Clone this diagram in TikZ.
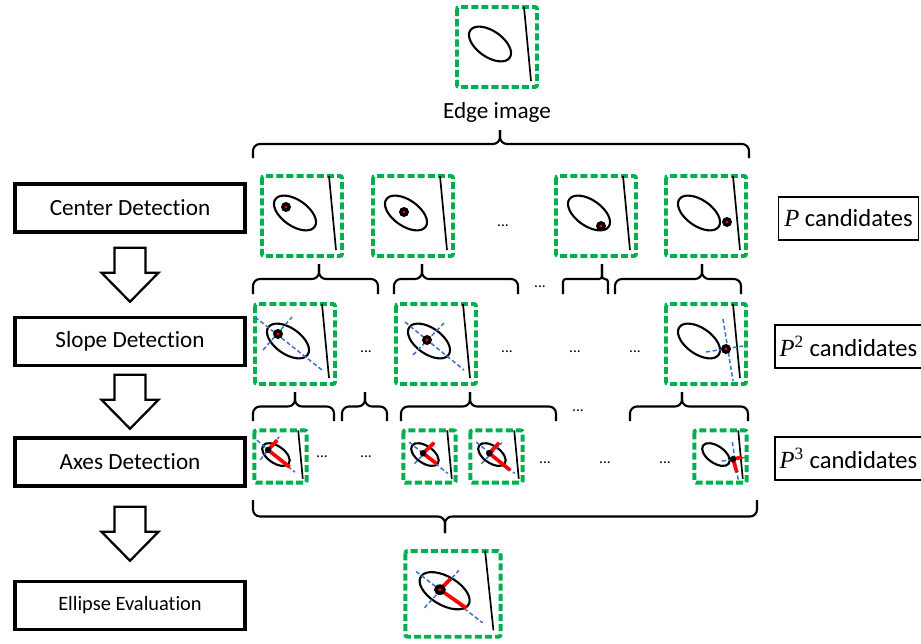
\documentclass[tikz,border=0pt]{standalone}
\usepackage{fontspec}
\setmainfont{Carlito}[Ligatures=NoCommon]
\newfontfamily\seriffont{Liberation Serif}
\usetikzlibrary{calc}

\definecolor{framegreen}{RGB}{0,176,80}
\definecolor{axisblue}{RGB}{68,114,196}

\tikzset{
  stage/.style={draw, line width=2.4pt, minimum width=5.75cm, minimum height=1.2cm,
    font=\fontsize{16.5}{20}\selectfont},
  cand/.style={draw, line width=1pt, minimum width=3.5cm, minimum height=1.08cm,
    font=\fontsize{17.5}{20}\selectfont},
  edge frame/.style={draw=framegreen, line width=2.8pt, dash pattern=on 5pt off 2.2pt,
    rounded corners=1.5pt},
  contour/.style={line width=1.5pt},
  edge line/.style={line width=1.2pt},
  slope axis/.style={axisblue, line width=1.1pt, dash pattern=on 3pt off 1.8pt},
  semi axis/.style={red, line width=2.6pt},
  bracket/.style={line width=1.5pt},
  stage arrow/.style={line width=1.6pt},
  dots/.style={inner sep=0pt, font=\fontsize{11}{13}\selectfont},
}

% one candidate image: frame, ellipse and edge line, then the extras in #3
\newcommand{\thumb}[3][]{%
  \begin{scope}[shift={(#2)}, #1]
    \draw[edge frame] (2,2) rectangle (82,82);
    \draw[contour] (35,39) ellipse [x radius=24, y radius=13, rotate=-35];
    \draw[edge line] (69,2) -- (76,76);
    #3
  \end{scope}}

% detected center point
\newcommand{\hitdot}[1]{%
  \fill (#1) circle [radius=5];
  \fill[red] (#1) circle [radius=1.6];}

% brace: [corner radius] left x, tip x, right x, y of the ends, y of the tip
\newcommand{\groupbrace}[6][5pt]{%
  \pgfmathsetmacro{\braceY}{(#5+#6)/2}
  \draw[bracket, rounded corners=#1] (#2,#5) -- (#2,\braceY) -- (#3,\braceY) -- (#3,#6);
  \draw[bracket, rounded corners=#1] (#4,#5) -- (#4,\braceY) -- (#3,\braceY) -- (#3,#6);}

% hollow block arrow between two stages
\newcommand{\stagearrow}[2]{%
  \coordinate (m) at ($(#1.south)!.5!(#2.north)$);
  \draw[stage arrow] ($(m)+(-15.5,-27)$) -- ++(31,0) -- ++(0,25) -- ++(13,0)
    -- ++(-28.5,29) -- ++(-28.5,-29) -- ++(13,0) -- cycle;}

\begin{document}
\begin{tikzpicture}[x=0.025cm, y=-0.025cm]
  \useasboundingbox (0,0) rectangle (921,644);

  % stages
  \node[stage] (detcenter) at (130,208) {Center Detection};
  \node[stage] (detslope) at (130,341.5) {Slope Detection};
  \node[stage] (detaxes) at (130,462) {Axes Detection};
  \node[stage, font=\fontsize{14.5}{18}\selectfont] (evaluation) at (130,605.5) {Ellipse Evaluation};
  \stagearrow{detcenter}{detslope}
  \stagearrow{detslope}{detaxes}
  \stagearrow{detaxes}{evaluation}

  % number of candidates per stage
  \node[cand] (cand1) at (848.5,218.5) {{\seriffont\itshape P} candidates};
  \node[cand] (cand2) at (848.5,346.5) {{\seriffont\itshape P\textsuperscript{\upshape 2}} candidates};
  \node[cand] (cand3) at (848.5,458.5) {{\seriffont\itshape P\textsuperscript{\upshape 3}} candidates};

  % input
  \thumb{455,5}{}
  \node (edgelabel) at (497,112) {\fontsize{16.5}{20}\selectfont Edge image};
  \groupbrace{253}{500}{749}{158}{130}

  % center candidates
  \thumb{260,174}{\hitdot{26,33}}
  \thumb{371,174}{\hitdot{33,38}}
  \thumb{554,174}{\hitdot{47,52}}
  \thumb{664,174}{\hitdot{63,48}}
  \groupbrace{253}{319}{378}{294}{264}
  \groupbrace{394}{422}{518}{294}{264}
  \groupbrace[2pt]{563}{602}{608}{294}{264}
  \groupbrace{615}{702}{741}{294}{264}

  % slope candidates
  \thumb{253,302}{\draw[slope axis] (2,15) -- (69,68) (10,48) -- (39,15); \hitdot{25,32}}
  \thumb{394,302}{\draw[slope axis] (11,20) -- (70,68) (19,53) -- (50,21); \hitdot{33,38}}
  \thumb{664,302}{\draw[slope axis] (59,17) -- (69,79) (42,50) -- (79,44); \hitdot{62,47}}
  \groupbrace{253}{295}{334}{421}{392}
  \groupbrace{342}{365}{387}{421}{392}
  \groupbrace{401}{470}{556}{421}{392}
  \groupbrace{630}{682}{748}{421}{392}

  % axes candidates
  \thumb[scale=.655]{253,429}{\draw[slope axis] (6,17) -- (64,66) (11,47) -- (40,12);
    \draw[semi axis] (23,32) -- (37,17) (23,32) -- (56,58); \fill (23,32) circle [radius=5];}
  \thumb[scale=.655]{402,429}{\draw[slope axis] (11,20) -- (70,68) (19,53) -- (50,21);
    \draw[semi axis] (32,37) -- (49,21) (32,37) -- (53,53); \fill (32,37) circle [radius=5];}
  \thumb[scale=.655]{469,429}{\draw[slope axis] (11,20) -- (70,68) (19,53) -- (50,21);
    \draw[semi axis] (31,37) -- (46,21) (31,37) -- (63,63); \fill (31,37) circle [radius=5];}
  \thumb[scale=.655]{693,429}{\draw[slope axis] (60,20) -- (69,78) (44,49) -- (82,43);
    \draw[semi axis] (61,46) -- (75,43) (61,46) -- (67,66); \fill (61,46) circle [radius=5];}
  \groupbrace{253}{445}{757}{500}{533}

  % best ellipse
  \thumb[xscale=1.19, yscale=1.07]{403,549}{\draw[slope axis] (11,21) -- (67,69) (18,55) -- (47,20);
    \draw[semi axis] (31,38) -- (40,28) (31,38) -- (53,55); \hitdot{31,38}}

  % skipped candidates
  \foreach \p [count=\i] in {{503,226}, {540,287}, {366,352}, {507,352}, {575,352},
      {635,352}, {578,411}, {322,457}, {366,457}, {545,463}, {605,463}, {665,463}}
    \node[dots] (dots\i) at (\p) {...};
\end{tikzpicture}
\end{document}
